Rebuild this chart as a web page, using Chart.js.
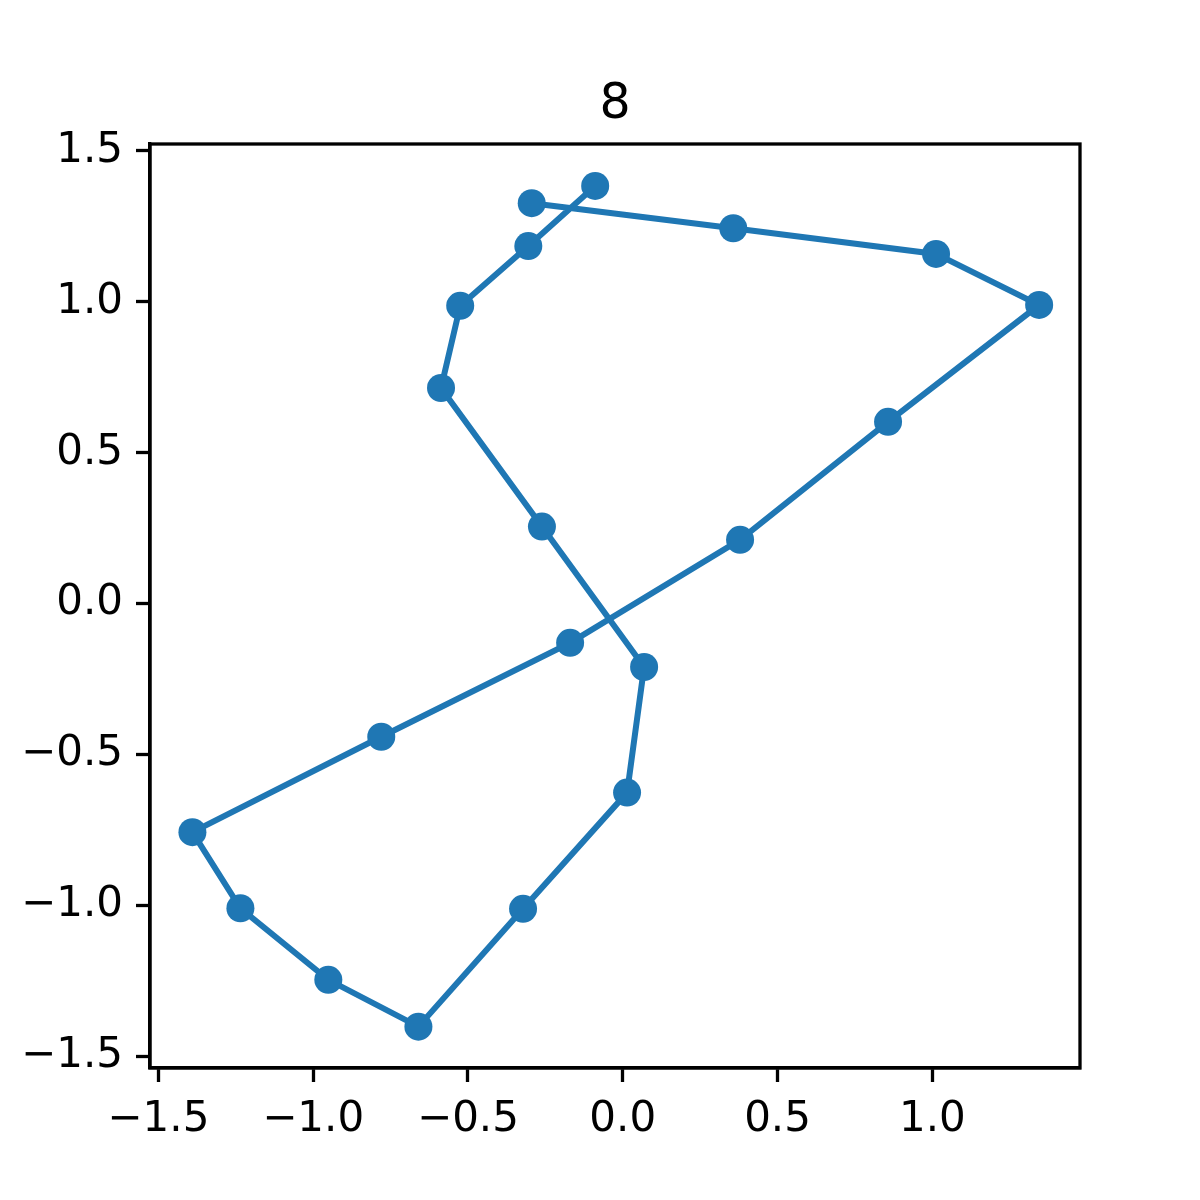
<!DOCTYPE html>
<html>
<head>
<meta charset="utf-8">
<script src="https://cdn.jsdelivr.net/npm/chart.js@4/dist/chart.umd.min.js"></script>
<style>
  html, body { margin: 0; padding: 0; background: #fff; }
  #wrap { width: 1200px; height: 1200px; }
</style>
</head>
<body>
<div id="wrap"><canvas id="c" width="1200" height="1200"></canvas></div>
<script>
// path points, in drawing order
const xs = [-0.294, 0.357, 1.012, 1.345, 0.857, 0.379, -0.170, -0.780, -1.390, -1.235,
  -0.951, -0.660, -0.322, 0.014, 0.069, -0.261, -0.587, -0.525, -0.305, -0.089];
const ys = [1.326, 1.243, 1.158, 0.989, 0.602, 0.211, -0.130, -0.441, -0.757, -1.009,
  -1.246, -1.401, -1.011, -0.626, -0.210, 0.255, 0.714, 0.986, 1.184, 1.383];
const xTicks = [-1.5, -1.0, -0.5, 0.0, 0.5, 1.0];
const yTicks = [-1.5, -1.0, -0.5, 0.0, 0.5, 1.0, 1.5];
const title = "8";

const blue = "#1f77b4";
const font = { family: "'DejaVu Sans'", size: 42 };
const fmt = (v) => (v < 0 ? "\u2212" : "") + Math.abs(v).toFixed(1);

// top/right spines + title, matplotlib style
const frame = {
  id: "frame",
  afterDraw(chart) {
    const { ctx, chartArea: a } = chart;
    ctx.save();
    ctx.strokeStyle = "#000";
    ctx.lineWidth = 3.3;
    ctx.strokeRect(a.left, a.top, a.right - a.left, a.bottom - a.top);
    ctx.fillStyle = "#000";
    ctx.font = "49px 'DejaVu Sans'";
    ctx.textAlign = "center";
    ctx.textBaseline = "alphabetic";
    ctx.fillText(title, (a.left + a.right) / 2, a.top - 26);
    ctx.restore();
  },
};

const axisCommon = {
  type: "linear",
  grid: { drawOnChartArea: false, drawTicks: true, tickLength: 14, tickColor: "#000", tickWidth: 3.3 },
  border: { display: true, color: "#000", width: 3.3 },
  ticks: { color: "#000", font, padding: 13, callback: (v) => fmt(v), maxRotation: 0, autoSkip: false },
};

new Chart(document.getElementById("c"), {
  type: "scatter",
  data: {
    datasets: [{
      data: xs.map((x, i) => ({ x, y: ys[i] })),
      showLine: true,
      borderColor: blue,
      borderWidth: 6,
      backgroundColor: blue,
      pointBackgroundColor: blue,
      pointRadius: 14,
      pointBorderWidth: 0,
      pointHoverRadius: 14,
    }],
  },
  options: {
    responsive: false,
    animation: false,
    events: [],
    layout: { padding: { top: 144, right: 120, left: 0, bottom: 0 } },
    plugins: { legend: { display: false }, tooltip: { enabled: false }, title: { display: false } },
    scales: {
      x: {
        ...axisCommon,
        min: -1.527, max: 1.477,
        afterBuildTicks: (s) => { s.ticks = xTicks.map((value) => ({ value })); },
        afterFit: (s) => { s.height = 132; },
      },
      y: {
        ...axisCommon,
        min: -1.538, max: 1.522,
        afterBuildTicks: (s) => { s.ticks = yTicks.map((value) => ({ value })); },
        afterFit: (s) => { s.width = 150; },
      },
    },
  },
  plugins: [frame],
});
</script>
</body>
</html>
